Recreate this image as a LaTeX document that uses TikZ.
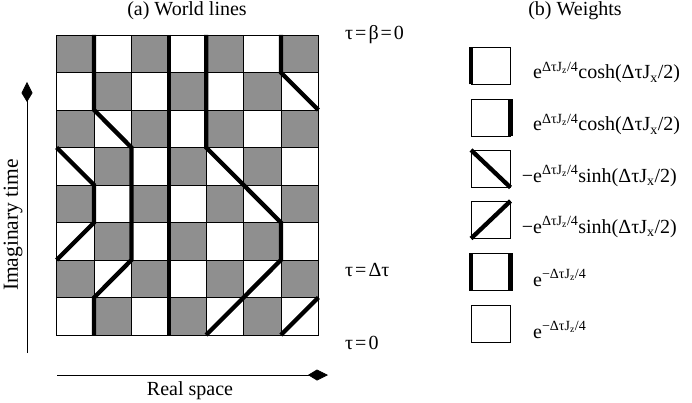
\documentclass[tikz,border=0pt]{standalone}
\usepackage{fontspec}
\setmainfont{Liberation Serif}
\usetikzlibrary{arrows.meta}

\begin{document}
\begin{tikzpicture}[x=1pt, y=1pt]
    \fontsize{20pt}{24pt}\selectfont
    % --- STYLES ---
    \tikzstyle{cell} = [draw=black, line width=0.6pt]
    \tikzstyle{shaded} = [cell, fill=black!44]
    \tikzstyle{worldline} = [line width=4.3pt, black]
    \tikzstyle{axis} = [line width=0.7pt, -{Kite[length=20pt, width=11pt, inset=9pt]}]
    \tikzstyle{weightbox} = [draw=black, line width=0.6pt]
    \tikzstyle{weight} = [inner sep=0pt, anchor=base west]
    \tikzstyle{caption} = [inner sep=0pt]

    \useasboundingbox (0,0) rectangle (692,402);

    % --- (a) WORLD LINES ---
    \begin{scope}[shift={(56.7,67)}, x=37.37pt, y=37.5pt]
        \foreach \i in {0,...,6}
            \foreach \j in {0,...,7} {
                \ifodd\numexpr\i+\j\relax
                    \draw[shaded] (\i,\j) rectangle ++(1,1);
                \else
                    \draw[cell] (\i,\j) rectangle ++(1,1);
                \fi
            }
        \draw[worldline] (1,8) -- (1,6) -- (2,5) -- (2,2) -- (1,1) -- (1,0);
        \draw[worldline] (3,8) -- (3,0);
        \draw[worldline] (4,8) -- (4,5) -- (6,3) -- (6,2) -- (4,0);
        \draw[worldline] (6,8) -- (6,7) -- (7,6);
        \draw[worldline] (0,5) -- (1,4) -- (1,3) -- (0,2);
        \draw[worldline] (6,0) -- (7,1);
    \end{scope}

    \node (titleA) [caption] at (187,391) {(a) World lines};
    \node (tbeta)  [caption, anchor=west] at (345,367) {τ\kern2pt=\kern2ptβ\kern2pt=\kern2pt0};
    \node (tdelta) [caption, anchor=west] at (345,132) {τ\kern2pt=\kern2ptΔτ};
    \node (tzero)  [caption, anchor=west] at (345,59) {τ\kern2pt=\kern2pt0};

    % axes
    \coordinate (timefoot) at (27,49);
    \coordinate (timehead) at (27,320);
    \coordinate (spacefoot) at (57,27);
    \coordinate (spacehead) at (328,27);
    \draw[axis] (timefoot) -- (timehead);
    \draw[axis] (spacefoot) -- (spacehead);
    \node (timelabel) [caption, rotate=90, font=\fontsize{21.5pt}{24pt}\selectfont] at (13,177) {Imaginary time};
    \node (spacelabel) [caption, anchor=base] at (190,7) {Real space};

    % --- (b) WEIGHTS ---
    \node (titleB) [caption] at (575,391) {(b) Weights};

    \draw[weightbox] (471,317.5) rectangle ++(39.5,37.5);
    \draw[worldline] (471,317.5) -- ++(0,37.5);
    \node (wone) [weight] at (533,323) {e\textsuperscript{ΔτJ\textsubscript{z}/4}cosh(ΔτJ\textsubscript{x}/2)};

    \draw[weightbox] (471,265.5) rectangle ++(39.5,37.5);
    \draw[worldline] (510.5,265.5) -- ++(0,37.5);
    \node (wtwo) [weight] at (533,271) {e\textsuperscript{ΔτJ\textsubscript{z}/4}cosh(ΔτJ\textsubscript{x}/2)};

    \draw[weightbox] (471,214.5) rectangle ++(39.5,37.5);
    \draw[worldline] (471,252) -- ++(39.5,-37.5);
    \node (wthree) [weight] at (533,220) {\llap{−}e\textsuperscript{ΔτJ\textsubscript{z}/4}sinh(ΔτJ\textsubscript{x}/2)};

    \draw[weightbox] (471,163.5) rectangle ++(39.5,37.5);
    \draw[worldline] (471,163.5) -- ++(39.5,37.5);
    \node (wfour) [weight] at (533,169) {\llap{−}e\textsuperscript{ΔτJ\textsubscript{z}/4}sinh(ΔτJ\textsubscript{x}/2)};

    \draw[weightbox] (471,111.5) rectangle ++(39.5,37.5);
    \draw[worldline] (471,111.5) -- ++(0,37.5);
    \draw[worldline] (510.5,111.5) -- ++(0,37.5);
    \node (wfive) [weight] at (533,116) {e\textsuperscript{−ΔτJ\textsubscript{z}/4}};

    \draw[weightbox] (471,59.5) rectangle ++(39.5,37.5);
    \node (wsix) [weight] at (533,64) {e\textsuperscript{−ΔτJ\textsubscript{z}/4}};
\end{tikzpicture}
\end{document}
